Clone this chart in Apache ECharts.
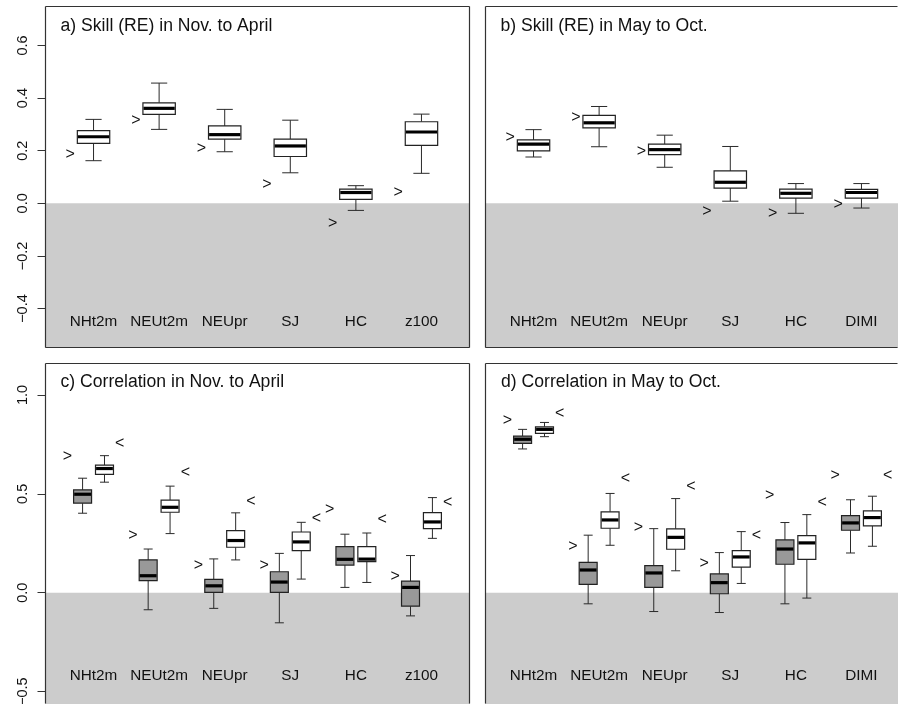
<!DOCTYPE html>
<html>
<head>
<meta charset="utf-8">
<script src="https://cdn.jsdelivr.net/npm/echarts@6/dist/echarts.min.js"></script>
<style>
html,body{margin:0;padding:0;background:#fff;}
#chart{width:898px;height:704px;}
</style>
</head>
<body>
<div id="chart"></div>
<script>
// ---- data ----
const categoriesNovApr = ['NHt2m', 'NEUt2m', 'NEUpr', 'SJ', 'HC', 'z100'];
const categoriesMayOct = ['NHt2m', 'NEUt2m', 'NEUpr', 'SJ', 'HC', 'DIMI'];

const skillTicks = [-0.4, -0.2, 0, 0.2, 0.4, 0.6];
const corrTicks = [-0.5, 0, 0.5, 1.0];

const panelTitles = [
  'a) Skill (RE) in Nov. to April',
  'b) Skill (RE) in May to Oct.',
  'c) Correlation in Nov. to April',
  'd) Correlation in May to Oct.'
];

// boxes: [lower whisker, Q1, median, Q3, upper whisker]
const skillNovApr = [
  [0.162, 0.228, 0.253, 0.276, 0.319],
  [0.281, 0.338, 0.361, 0.382, 0.457],
  [0.196, 0.244, 0.261, 0.294, 0.357],
  [0.116, 0.178, 0.218, 0.244, 0.316],
  [-0.027, 0.015, 0.041, 0.054, 0.067],
  [0.114, 0.220, 0.271, 0.310, 0.339]
];
const skillNovAprRef = [0.184, 0.316, 0.209, 0.073, -0.076, 0.042];

const skillMayOct = [
  [0.176, 0.199, 0.225, 0.241, 0.280],
  [0.215, 0.287, 0.306, 0.334, 0.368],
  [0.137, 0.185, 0.204, 0.225, 0.259],
  [0.008, 0.058, 0.080, 0.123, 0.216],
  [-0.038, 0.020, 0.038, 0.054, 0.075],
  [-0.018, 0.020, 0.041, 0.053, 0.075]
];
const skillMayOctRef = [0.248, 0.327, 0.197, -0.030, -0.038, -0.006];

const corrNovAprGray = [
  [0.402, 0.453, 0.498, 0.520, 0.579],
  [-0.086, 0.061, 0.086, 0.166, 0.221],
  [-0.079, 0.002, 0.035, 0.068, 0.171],
  [-0.152, 0.002, 0.054, 0.106, 0.199],
  [0.027, 0.140, 0.169, 0.233, 0.296],
  [-0.117, -0.068, 0.027, 0.059, 0.188]
];
const corrNovAprWhite = [
  [0.559, 0.598, 0.628, 0.645, 0.693],
  [0.299, 0.407, 0.432, 0.468, 0.539],
  [0.166, 0.230, 0.264, 0.314, 0.404],
  [0.069, 0.213, 0.257, 0.307, 0.356],
  [0.052, 0.157, 0.170, 0.233, 0.302],
  [0.275, 0.324, 0.358, 0.405, 0.481]
];
const corrNovAprGrayRef = [0.686, 0.287, 0.135, 0.139, 0.419, 0.081];
const corrNovAprWhiteRef = [0.753, 0.605, 0.461, 0.377, 0.372, 0.458];

const corrMayOctGray = [
  [0.727, 0.755, 0.776, 0.792, 0.826],
  [-0.056, 0.042, 0.115, 0.154, 0.291],
  [-0.095, 0.027, 0.100, 0.137, 0.324],
  [-0.100, -0.005, 0.051, 0.095, 0.203],
  [-0.056, 0.144, 0.221, 0.267, 0.355],
  [0.201, 0.316, 0.353, 0.390, 0.470]
];
const corrMayOctWhite = [
  [0.789, 0.806, 0.826, 0.839, 0.861],
  [0.240, 0.326, 0.368, 0.409, 0.502],
  [0.111, 0.220, 0.280, 0.323, 0.476],
  [0.047, 0.130, 0.181, 0.213, 0.309],
  [-0.027, 0.169, 0.252, 0.289, 0.395],
  [0.235, 0.338, 0.380, 0.414, 0.488]
];
const corrMayOctGrayRef = [0.870, 0.233, 0.329, 0.149, 0.492, 0.593];
const corrMayOctWhiteRef = [0.904, 0.579, 0.535, 0.289, 0.458, 0.593];

// ---- chart ----
const FONT = "'Liberation Sans', Arial, Helvetica, sans-serif";
const chart = echarts.init(document.getElementById('chart'), null, {renderer: 'canvas'});

// x scale: 425 px for 6.48 units (0.26 .. 6.74); right panels are cut by the page edge
const X_MIN = 0.26;
const panels = [
  {left: 45, top: 6, width: 425, height: 342, xmax: 6.74, ymin: -0.55, ymax: 0.75, ticks: skillTicks, showY: true,
   labelY: -0.45, cats: categoriesNovApr, sides: {left: 1, top: 1, right: 1, bottom: 1},
   groups: [{boxes: skillNovApr, off: 0, fill: '#ffffff', w: 0.494}],
   markers: [{vals: skillNovAprRef, off: -0.355, ch: '>'}]},
  {left: 485, top: 6, width: 413, height: 342, xmax: 6.557, ymin: -0.55, ymax: 0.75, ticks: skillTicks, showY: false,
   labelY: -0.45, cats: categoriesMayOct, sides: {left: 1, top: 1, right: 0, bottom: 1},
   groups: [{boxes: skillMayOct, off: 0, fill: '#ffffff', w: 0.494}],
   markers: [{vals: skillMayOctRef, off: -0.355, ch: '>'}]},
  {left: 45, top: 363.3, width: 425, height: 340.7, xmax: 6.74, ymin: -0.5625, ymax: 1.16, ticks: corrTicks, showY: true,
   labelY: -0.42, cats: categoriesNovApr, sides: {left: 1, top: 1, right: 1, bottom: 0},
   groups: [{boxes: corrNovAprGray, off: -0.167, fill: '#999999', w: 0.274},
            {boxes: corrNovAprWhite, off: 0.167, fill: '#ffffff', w: 0.274}],
   markers: [{vals: corrNovAprGrayRef, off: -0.4, ch: '>'}, {vals: corrNovAprWhiteRef, off: 0.4, ch: '<'}]},
  {left: 485, top: 363.3, width: 413, height: 340.7, xmax: 6.557, ymin: -0.5625, ymax: 1.16, ticks: corrTicks, showY: false,
   labelY: -0.42, cats: categoriesMayOct, sides: {left: 1, top: 1, right: 0, bottom: 0},
   groups: [{boxes: corrMayOctGray, off: -0.167, fill: '#999999', w: 0.274},
            {boxes: corrMayOctWhite, off: 0.167, fill: '#ffffff', w: 0.274}],
   markers: [{vals: corrMayOctGrayRef, off: -0.4, ch: '>'}, {vals: corrMayOctWhiteRef, off: 0.4, ch: '<'}]}
];

const titlePos = [[60.5, 26.5], [500.5, 26.3], [60.5, 382.3], [501, 382.3]];

function fmt(v) {
  const s = Math.abs(v).toFixed(1);
  return (v < 0 ? '\u2212' : '') + s;
}

function boxRenderer(width, fill) {
  return function (params, api) {
    const x = api.value(0);
    const lo = api.coord([x, api.value(1)]);
    const q1 = api.coord([x, api.value(2)]);
    const md = api.coord([x, api.value(3)]);
    const q3 = api.coord([x, api.value(4)]);
    const hi = api.coord([x, api.value(5)]);
    const w = api.size([width, 0])[0];
    const cx = lo[0];
    const lineStyle = {stroke: '#2a2a2a', lineWidth: 1, fill: null};
    return {
      type: 'group',
      children: [
        {type: 'line', shape: {x1: cx, y1: lo[1], x2: cx, y2: q1[1]}, style: lineStyle},
        {type: 'line', shape: {x1: cx, y1: q3[1], x2: cx, y2: hi[1]}, style: lineStyle},
        {type: 'line', shape: {x1: cx - w / 4, y1: lo[1], x2: cx + w / 4, y2: lo[1]}, style: lineStyle},
        {type: 'line', shape: {x1: cx - w / 4, y1: hi[1], x2: cx + w / 4, y2: hi[1]}, style: lineStyle},
        {type: 'rect', shape: {x: cx - w / 2, y: q3[1], width: w, height: q1[1] - q3[1]},
         style: {fill: fill, stroke: '#222', lineWidth: 1.2}},
        {type: 'line', shape: {x1: cx - w / 2 + 0.6, y1: md[1], x2: cx + w / 2 - 0.6, y2: md[1]},
         style: {stroke: '#000', lineWidth: 3.2}}
      ]
    };
  };
}

function textRenderer(texts, fontSize) {
  return function (params, api) {
    const p = api.coord([api.value(0), api.value(1)]);
    return {
      type: 'text',
      x: p[0], y: p[1],
      style: {text: texts[params.dataIndex], font: fontSize + 'px ' + FONT, fill: '#111',
        align: 'center', verticalAlign: 'middle'}
    };
  };
}

function frameRenderer(sides) {
  return function (params, api) {
    const cs = params.coordSys;
    const x0 = Math.round(cs.x) + 0.5, y0 = Math.round(cs.y) + 0.5;
    const x1 = Math.round(cs.x + cs.width) - 0.5, y1 = Math.round(cs.y + cs.height) - 0.5;
    const st = {stroke: '#333', lineWidth: 1.2};
    const ch = [];
    if (sides.left) ch.push({type: 'line', shape: {x1: x0, y1: y0, x2: x0, y2: y1}, style: st});
    if (sides.top) ch.push({type: 'line', shape: {x1: x0, y1: y0, x2: x1, y2: y0}, style: st});
    if (sides.right) ch.push({type: 'line', shape: {x1: x1, y1: y0, x2: x1, y2: y1}, style: st});
    if (sides.bottom) ch.push({type: 'line', shape: {x1: x0, y1: y1, x2: x1, y2: y1}, style: st});
    return {type: 'group', children: ch};
  };
}

const grids = [], xAxes = [], yAxes = [], series = [];
panels.forEach((pn, gi) => {
  grids.push({left: pn.left, top: pn.top, width: pn.width, height: pn.height, show: false,
    containLabel: false, outerBoundsMode: 'none'});
  xAxes.push({type: 'value', gridIndex: gi, min: X_MIN, max: pn.xmax, show: false});
  yAxes.push({type: 'value', gridIndex: gi, min: pn.ymin, max: pn.ymax, splitLine: {show: false},
    axisLine: {show: false},
    axisTick: {show: pn.showY, length: 7.5, customValues: pn.ticks, lineStyle: {color: '#333'}},
    axisLabel: {show: pn.showY, customValues: pn.ticks, rotate: 90, margin: 15, formatter: fmt,
      fontFamily: FONT, fontSize: 14.5, color: '#111'}
  });
  // shaded negative region
  series.push({type: 'custom', xAxisIndex: gi, yAxisIndex: gi, z: 1, silent: true, data: [[1, 0]],
    renderItem: function (params, api) {
      const cs = params.coordSys;
      const y0 = api.coord([1, 0])[1];
      return {type: 'rect', shape: {x: cs.x, y: y0, width: cs.width, height: cs.y + cs.height - y0},
        style: {fill: '#cccccc'}};
    }});
  pn.groups.forEach(g => {
    series.push({type: 'custom', xAxisIndex: gi, yAxisIndex: gi, z: 3, silent: true,
      data: g.boxes.map((b, i) => [i + 1 + g.off].concat(b)),
      renderItem: boxRenderer(g.w, g.fill)});
  });
  pn.markers.forEach(m => {
    series.push({type: 'custom', xAxisIndex: gi, yAxisIndex: gi, z: 4, silent: true,
      data: m.vals.map((v, i) => [i + 1 + m.off, v]),
      renderItem: textRenderer(m.vals.map(() => m.ch), 16)});
  });
  series.push({type: 'custom', xAxisIndex: gi, yAxisIndex: gi, z: 4, silent: true,
    data: pn.cats.map((c, i) => [i + 1, pn.labelY]),
    renderItem: textRenderer(pn.cats, 15.3)});
  // frame
  series.push({type: 'custom', xAxisIndex: gi, yAxisIndex: gi, z: 6, silent: true, data: [[1, 0]],
    renderItem: frameRenderer(pn.sides)});
});

const graphics = panelTitles.map((t, i) => ({
  type: 'text', x: titlePos[i][0], y: titlePos[i][1], z: 20,
  style: {text: t, font: '17.6px ' + FONT, fill: '#111', align: 'left', verticalAlign: 'middle'}
}));

chart.setOption({
  animation: false,
  backgroundColor: '#ffffff',
  grid: grids,
  xAxis: xAxes,
  yAxis: yAxes,
  series: series,
  graphic: graphics
});
</script>
</body>
</html>
